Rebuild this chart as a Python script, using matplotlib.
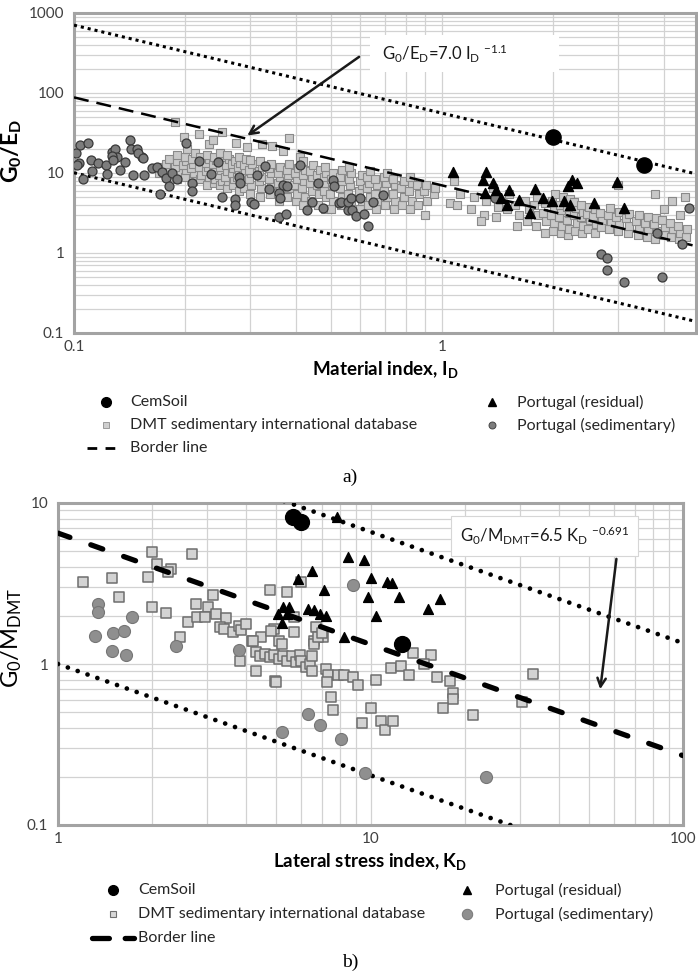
import matplotlib
matplotlib.use('Agg')
import matplotlib.pyplot as plt
from matplotlib.lines import Line2D
from matplotlib.patches import Rectangle
from matplotlib.ticker import FixedLocator, FuncFormatter, LogLocator, NullFormatter
import numpy as np

# ---------------- DATA : chart a) G0/ED vs ID ----------------
cem_a_id = [2.0, 3.55]
cem_a_g = [28.0, 12.6]

res_a_id = [1.07, 1.32, 1.29, 1.38, 1.31, 1.40, 1.45, 1.50, 1.52, 1.62, 1.79, 1.73, 1.88,
            1.99, 2.15, 2.23, 2.26, 2.33, 2.20, 2.59, 2.98, 3.13]
res_a_g = [10.3, 10.3, 8.2, 7.5, 5.6, 6.2, 4.9, 4.0, 6.2, 4.6, 6.4, 3.2, 4.9,
           4.5, 4.5, 4.0, 8.2, 7.5, 6.8, 4.2, 7.7, 3.7]

sed_a_id = [0.104, 0.109, 0.101, 0.103, 0.111, 0.116, 0.122, 0.127, 0.129, 0.131, 0.138, 0.142,
            0.143, 0.148, 0.153, 0.202, 0.218, 0.246, 0.330, 0.410, 0.102, 0.106, 0.112, 0.123,
            0.127, 0.128, 0.133, 0.145, 0.149, 0.154, 0.155, 0.163, 0.168, 0.173, 0.178, 0.181,
            0.171, 0.185, 0.191, 0.209, 0.209, 0.235, 0.252, 0.274, 0.274, 0.280, 0.282, 0.302,
            0.308, 0.314, 0.338, 0.360, 0.362, 0.369, 0.379, 0.360, 0.376, 0.430, 0.442, 0.460,
            0.475, 0.505, 0.508, 0.525, 0.533, 0.555, 0.555, 0.566, 0.600, 0.570, 0.585, 0.615,
            0.650, 0.690, 0.630, 1.39, 2.70, 2.80, 2.80, 3.12, 3.85, 4.50, 3.97, 4.70]
sed_a_g = [22.4, 23.7, 17.8, 13.3, 14.5, 13.3, 12.6, 18.3, 20.0, 15.8, 13.7, 25.9,
           20.0, 20.0, 15.8, 23.7, 14.1, 13.7, 12.2, 12.6, 12.6, 8.4, 10.6, 9.7,
           16.3, 14.5, 10.9, 9.4, 17.8, 15.4, 9.4, 11.5, 11.9, 10.3, 8.7, 6.9,
           5.5, 10.0, 8.4, 7.5, 6.0, 9.7, 5.0, 4.75, 4.0, 8.9, 7.5, 4.4,
           4.1, 9.4, 6.4, 5.6, 4.9, 7.1, 6.8, 2.8, 3.1, 3.45, 4.4, 7.5,
           3.6, 8.2, 6.8, 4.2, 4.4, 3.45, 4.4, 4.9, 4.9, 3.45, 2.9, 3.1,
           4.4, 5.3, 2.15, 4.9, 0.98, 0.87, 0.62, 0.44, 1.78, 1.3, 0.5, 3.7]

dmt_a_id = [0.17, 0.172,
            0.18, 0.182, 0.178, 0.181,
            0.19, 0.192, 0.188, 0.191, 0.19, 0.188,
            0.2, 0.202, 0.198, 0.201, 0.2, 0.203, 0.199,
            0.21, 0.212, 0.208, 0.211, 0.209, 0.213,
            0.22, 0.222, 0.218, 0.221, 0.22, 0.219,
            0.23, 0.232, 0.228, 0.231, 0.229, 0.233, 0.23, 0.232,
            0.24, 0.242, 0.238, 0.241, 0.239, 0.243, 0.24, 0.238,
            0.25, 0.252, 0.248, 0.251, 0.249, 0.253, 0.25, 0.252,
            0.26, 0.262, 0.258, 0.261, 0.259, 0.263, 0.26,
            0.27, 0.272, 0.268, 0.271, 0.269, 0.273, 0.275,
            0.28, 0.282, 0.278, 0.281, 0.279, 0.283, 0.28,
            0.29, 0.292, 0.288, 0.291, 0.289, 0.293, 0.295,
            0.3, 0.303, 0.298, 0.302, 0.299, 0.304, 0.3,
            0.32, 0.323, 0.318, 0.322, 0.319, 0.324, 0.32, 0.325,
            0.34, 0.343, 0.338, 0.342, 0.339, 0.344, 0.345,
            0.36, 0.363, 0.358, 0.362, 0.359, 0.364, 0.37,
            0.38, 0.383, 0.378, 0.382, 0.379, 0.384, 0.385,
            0.4, 0.404, 0.397, 0.403, 0.398, 0.405, 0.41,
            0.42, 0.424, 0.417, 0.423, 0.418, 0.425, 0.42,
            0.44, 0.444, 0.437, 0.443, 0.438, 0.445,
            0.46, 0.464, 0.457, 0.463, 0.458, 0.465,
            0.48, 0.484, 0.477, 0.483, 0.478, 0.485, 0.48,
            0.5, 0.505, 0.497, 0.504, 0.498, 0.506,
            0.53, 0.535, 0.527, 0.534, 0.528, 0.536,
            0.56, 0.565, 0.557, 0.564, 0.558, 0.566, 0.56,
            0.6, 0.606, 0.596, 0.605, 0.597, 0.607,
            0.63, 0.636, 0.626, 0.635, 0.627, 0.637,
            0.66, 0.666, 0.656, 0.665, 0.657,
            0.7, 0.707, 0.695, 0.706, 0.696, 0.708,
            0.74, 0.747, 0.735, 0.746, 0.736,
            0.78, 0.787, 0.775, 0.786,
            0.82, 0.828, 0.815, 0.827, 0.816,
            0.86, 0.868, 0.855,
            0.9, 0.908, 0.895, 0.907,
            0.95, 0.96,
            1.05,
            1.1, 1.12, 1.08,
            1.2, 1.22,
            1.3, 1.32, 1.28,
            1.4, 1.42, 1.38,
            1.5, 1.52,
            1.6, 1.62, 1.58,
            1.7, 1.72, 1.68,
            1.8, 1.82, 1.78, 1.81,
            1.9, 1.92, 1.88, 1.91,
            2.0, 2.02, 1.98, 2.01, 1.99, 2.03,
            2.1, 2.12, 2.08, 2.11, 2.09, 2.13,
            2.2, 2.22, 2.18, 2.21, 2.19, 2.23,
            2.3, 2.32, 2.28, 2.31, 2.29,
            2.4, 2.42, 2.38, 2.41, 2.39,
            2.5, 2.52, 2.48, 2.51,
            2.6, 2.62, 2.58, 2.61,
            2.7, 2.72, 2.68,
            2.85, 2.87, 2.83, 2.86,
            3.0, 3.03, 2.97, 3.02, 3.0,
            3.2, 3.23, 3.17, 3.22,
            3.4, 3.43, 3.37, 3.42,
            3.6, 3.63, 3.57, 3.62,
            3.8, 3.83, 3.77, 3.82, 3.8,
            4.0, 4.03, 3.97, 4.02,
            4.2, 4.23, 4.17, 4.22,
            4.4, 4.43, 4.37, 4.42,
            4.6, 4.63, 4.57]
dmt_a_g = [10, 12,
           9, 11, 13, 15,
           8.5, 10, 12, 14, 17, 43,
           9, 11, 12.5, 14, 16, 20, 28,
           8, 10, 11.5, 13, 15, 18,
           8.5, 9.5, 12, 14, 16, 31,
           7, 9, 10.5, 12, 13.5, 15, 17, 23,
           7.5, 8.5, 10, 11, 13, 14.5, 16, 26,
           7, 8, 9.5, 11, 12, 14, 18, 33,
           6.5, 8, 9, 10.5, 12.5, 15, 17,
           7, 8.5, 10, 11.5, 13, 14, 24,
           6, 7.5, 9, 10, 12, 13.5, 16,
           6.5, 8, 9.5, 11, 12.5, 15, 21,
           5.5, 7, 8.5, 10, 11, 13, 14.5,
           5, 6.5, 8, 9, 10.5, 12, 14, 23,
           5.5, 7, 8.5, 10, 11.5, 13, 22,
           4.5, 6, 7.5, 9, 10, 12, 19,
           5, 6.5, 8, 9.5, 11, 13, 27,
           4.5, 5.5, 7, 8.5, 10, 11.5, 16,
           4, 5, 6.5, 8, 9.5, 11, 14,
           4.5, 6, 7.5, 9, 10.5, 12.5,
           4, 5.5, 7, 8, 9.5, 11,
           3.5, 5, 6, 7.5, 9, 10, 12,
           3.5, 4.5, 5.5, 7, 8.5, 10,
           4, 5, 6.5, 8, 9, 11,
           3.5, 4.5, 5.5, 7, 8.5, 10, 12,
           3.5, 4.5, 6, 7, 8, 9.5,
           4, 5, 6.5, 7.5, 9, 10.5,
           3.5, 4.5, 5.5, 7, 8.5,
           4, 5, 6, 7.5, 9, 10,
           3.5, 4.5, 5.5, 7, 8.5,
           4, 5, 6.5, 8,
           3.5, 4.5, 6, 7.5, 9,
           4, 5.5, 7,
           3, 4.5, 6, 7,
           5.5, 6.5,
           4.2,
           4, 5.5, 8,
           3.5, 5,
           3, 4.5, 2.5,
           2.8, 3.8, 6.5,
           3.5, 5.5,
           2.2, 3, 4,
           2.5, 3.5, 4.5,
           2.2, 3, 4, 5,
           1.8, 2.5, 3.2, 4.2,
           1.9, 2.4, 3, 3.6, 4.5, 5.5,
           1.8, 2.2, 2.8, 3.4, 4, 5,
           1.7, 2, 2.6, 3.2, 3.8, 4.8,
           1.9, 2.4, 3, 3.6, 4.4,
           1.8, 2.2, 2.8, 3.3, 4,
           2, 2.6, 3.1, 3.8,
           1.8, 2.3, 2.9, 3.5,
           2.1, 2.6, 3.2,
           2, 2.5, 3, 3.6,
           1.9, 2.4, 2.8, 3.3, 7,
           1.8, 2.2, 2.7, 3.1,
           1.7, 2.1, 2.5, 3,
           1.6, 2, 2.4, 2.8,
           1.5, 1.9, 2.3, 2.7, 5.5,
           1.7, 2.1, 2.6, 3.5,
           1.6, 2, 2.4, 4.5,
           1.5, 1.8, 2.2, 3,
           1.6, 2, 5]

# power-law lines of chart a): coefficient, exponent
border_a = (7.0, -1.1)
upper_a = (56.0, -1.1)
lower_a = (0.8, -1.1)
xlim_a = (0.1, 4.9)
ylim_a = (0.1, 1000)
xticks_a = [0.1, 1]
yticks_a = [0.1, 1, 10, 100, 1000]

# ---------------- DATA : chart b) G0/MDMT vs KD ----------------
cem_b_kd = [5.65, 6.0, 12.6]
cem_b_g = [8.2, 7.6, 1.33]

res_b_kd = [7.8, 5.85, 6.5, 7.1, 8.5, 9.5, 10.0, 11.3, 11.7, 9.8, 12.3, 16.7, 10.4, 15.3,
            5.05, 5.25, 5.5, 5.4, 5.2, 6.3, 6.6, 6.9, 7.2, 8.2]
res_b_g = [8.2, 3.35, 3.8, 2.9, 4.6, 4.4, 3.4, 3.25, 3.2, 2.6, 2.6, 2.55, 1.98, 2.2,
           2.05, 2.25, 2.25, 2.05, 1.8, 2.2, 2.15, 2.05, 2.0, 1.47]

sed_b_kd = [1.34, 1.34, 1.72, 1.31, 1.5, 1.63, 1.49, 1.65, 2.38, 3.8, 6.3, 6.9, 5.2, 8.05,
            8.8, 23.5, 9.6]
sed_b_g = [2.35, 2.1, 1.95, 1.5, 1.55, 1.6, 1.2, 1.13, 1.3, 1.22, 0.49, 0.42, 0.38, 0.34,
           3.1, 0.2, 0.21]

dmt_b_kd = [1.2, 1.49, 1.94, 2.0, 2.07, 2.3, 2.25, 2.68, 1.57, 2.0, 2.22, 2.76, 3.02, 3.14,
            2.6, 2.78, 2.95, 3.2, 3.45, 3.3, 3.4, 3.63, 3.8, 3.85, 4.0, 4.17, 4.46, 4.77,
            5.4, 6.0, 5.7, 4.9, 5.1, 5.7, 6.7, 7.05, 6.6, 2.45, 3.82, 4.2, 4.8, 5.2,
            4.3, 4.43, 4.6, 4.77, 4.9, 5.1, 5.25, 5.4, 5.6, 5.77, 5.95, 6.0, 6.2, 6.4,
            6.5, 6.5, 6.6, 6.8, 7.0, 4.3, 4.95, 5.0, 7.2, 7.3, 7.25, 7.5, 7.6, 7.85, 8.2,
            13.7, 15.6, 11.6, 12.5, 13.3, 14.8, 16.3, 17.9, 18.3, 18.3, 17.1, 21.3, 30.5, 33.0,
            8.8, 9.1, 10.4, 10.0, 9.4, 10.8, 11.1, 11.8]
dmt_b_g = [3.25, 3.4, 3.45, 4.98, 4.15, 3.9, 3.75, 4.85, 2.62, 2.25, 2.07, 2.35, 2.26, 2.7,
           1.82, 1.95, 1.95, 2.05, 1.92, 1.7, 1.65, 1.57, 1.72, 1.62, 1.76, 1.38, 1.47, 2.9,
           2.8, 3.25, 1.95, 1.65, 1.38, 1.58, 1.7, 1.47, 1.38, 1.47, 1.05, 1.38, 1.6, 1.33,
           1.18, 1.12, 1.15, 1.1, 1.13, 1.08, 1.12, 1.05, 1.12, 1.03, 1.13, 1.05, 0.96, 1.0,
           0.91, 1.12, 1.33, 1.47, 1.55, 0.91, 0.78, 0.77, 0.93, 0.85, 0.77, 0.62, 0.52, 0.86, 0.86,
           1.17, 1.13, 0.95, 0.97, 0.85, 1.0, 0.83, 0.78, 0.66, 0.61, 0.53, 0.48, 0.58, 0.87,
           0.83, 0.74, 0.8, 0.53, 0.43, 0.44, 0.39, 0.44]

border_b = (6.5, -0.691)
upper_b = (32.5, -0.691)
lower_b = (1.0, -0.691)
xlim_b = (1, 100)
ylim_b = (0.1, 10)
xticks_b = [1, 10, 100]
yticks_b = [0.1, 1, 10]

legend_labels = ['CemSoil', 'DMT sedimentary international database', 'Border line',
                 'Portugal (residual)', 'Portugal (sedimentary)']

# ---------------- STYLE ----------------
plt.rcParams['font.family'] = ['Lato', 'DejaVu Sans']
plt.rcParams['mathtext.default'] = 'regular'

W, H = 698, 976
fig = plt.figure(figsize=(W / 100, H / 100), dpi=100)


def fmt(v, pos=None):
    return ('%g' % v)


def style_axes(ax, xticks, yticks, xlim, ylim):
    ax.set_xscale('log')
    ax.set_yscale('log')
    ax.set_xlim(*xlim)
    ax.set_ylim(*ylim)
    ax.xaxis.set_major_locator(FixedLocator(xticks))
    ax.yaxis.set_major_locator(FixedLocator(yticks))
    ax.xaxis.set_major_formatter(FuncFormatter(fmt))
    ax.yaxis.set_major_formatter(FuncFormatter(fmt))
    ax.xaxis.set_minor_locator(LogLocator(base=10, subs=range(2, 10), numticks=20))
    ax.yaxis.set_minor_locator(LogLocator(base=10, subs=range(2, 10), numticks=20))
    ax.xaxis.set_minor_formatter(NullFormatter())
    ax.yaxis.set_minor_formatter(NullFormatter())
    ax.grid(True, which='both', color='#d2d2d2', lw=0.9)
    ax.set_axisbelow(True)
    for s in ax.spines.values():
        s.set_color('#a3a3a3')
        s.set_linewidth(2.2)
    ax.tick_params(which='both', length=0, labelsize=11, labelcolor='#404040')
    ax.tick_params(axis='y', pad=7)
    ax.tick_params(axis='x', pad=5)


def power(coef, xs):
    c, e = coef
    xs = np.asarray(xs, dtype=float)
    return c * xs ** e


# ---------------- CHART a ----------------
axa = fig.add_axes([74 / W, 1 - 333 / H, 622 / W, 320 / H])
style_axes(axa, xticks_a, yticks_a, xlim_a, ylim_a)

axa.scatter(dmt_a_id, dmt_a_g, marker='s', s=26, facecolor='#c8c8c8', edgecolor='#8a8a8a',
            linewidth=0.8, zorder=3)
xx = np.array(xlim_a)
axa.plot(xx, power(border_a, xx), color='black', lw=1.8, linestyle=(0, (6.0, 3.2)), zorder=4)
axa.plot(xx, power(upper_a, xx), color='black', lw=2.2, linestyle=(0, (1, 1.3)), zorder=4)
axa.plot(xx, power(lower_a, xx), color='black', lw=2.2, linestyle=(0, (1, 1.3)), zorder=4)
axa.scatter(sed_a_id, sed_a_g, marker='o', s=42, facecolor='#7d7d7d', edgecolor='#383838',
            linewidth=0.9, zorder=5)
axa.scatter(res_a_id, res_a_g, marker='^', s=52, facecolor='black', edgecolor='black', zorder=6)
axa.scatter(cem_a_id, cem_a_g, marker='o', s=120, facecolor='black', edgecolor='black', zorder=7)

axa.set_xlabel(r'Material index, I$_D$', fontsize=13.5, fontweight='bold', labelpad=4)
axa.set_ylabel(r'G$_0$/E$_D$', fontsize=16.5, fontweight='bold')
axa.yaxis.set_label_coords(-0.08, 0.57)

axa.add_patch(Rectangle((0.476, 0.816), 0.303, 0.116, transform=axa.transAxes,
                        facecolor='white', edgecolor='none', zorder=8))
axa.text(0.495, 0.872, r'G$_0$/E$_D$=7.0 I$_D$ $^{-1.1}$', transform=axa.transAxes,
         fontsize=12, color='#1a1a1a', va='center', ha='left', zorder=9)
axa.annotate('', xy=(0.275, 0.612), xytext=(0.462, 0.868), xycoords='axes fraction',
             arrowprops=dict(arrowstyle='->,head_length=0.6,head_width=0.3', color='#1a1a1a',
                             lw=1.8), zorder=9)

# ---------------- CHART b ----------------
axb = fig.add_axes([58 / W, 1 - 825 / H, 625 / W, 322 / H])
style_axes(axb, xticks_b, yticks_b, xlim_b, ylim_b)

xb = np.array(xlim_b)
axb.scatter(dmt_b_kd, dmt_b_g, marker='s', s=46, facecolor='#d3d3d3', edgecolor='#6e6e6e',
            linewidth=1.1, zorder=3)
axb.plot(xb, power(border_b, xb), color='black', lw=3.8, linestyle=(0, (2.4, 4.2)),
         dash_capstyle='round', zorder=4)
axb.plot(xb, power(upper_b, xb), color='black', lw=3.4, linestyle=(0, (0.01, 2.2)),
         dash_capstyle='round', zorder=4)
axb.plot(xb, power(lower_b, xb), color='black', lw=3.4, linestyle=(0, (0.01, 2.2)),
         dash_capstyle='round', zorder=4)
axb.scatter(sed_b_kd, sed_b_g, marker='o', s=75, facecolor='#8f8f8f', edgecolor='#757575',
            linewidth=0.8, zorder=5)
axb.scatter(res_b_kd, res_b_g, marker='^', s=50, facecolor='black', edgecolor='black', zorder=6)
axb.scatter(cem_b_kd, cem_b_g, marker='o', s=130, facecolor='black', edgecolor='black', zorder=7)

axb.set_xlabel(r'Lateral stress index, K$_D$', fontsize=13.5, fontweight='bold', labelpad=4)
axb.set_ylabel(r'G$_0$/M$_{DMT}$', fontsize=17)
axb.yaxis.set_label_coords(-0.054, 0.58)

axb.text(0.643, 0.898, r'G$_0$/M$_{DMT}$=6.5 K$_D$ $^{-0.691}$', transform=axb.transAxes,
         fontsize=12, color='#1a1a1a', va='center', ha='left', zorder=9,
         bbox=dict(boxstyle='square,pad=0.55', facecolor='white', edgecolor='#d6d6d6', lw=0.8))
axb.annotate('', xy=(0.867, 0.413), xytext=(0.894, 0.835), xycoords='axes fraction',
             arrowprops=dict(arrowstyle='->,head_length=0.6,head_width=0.3', color='#1a1a1a',
                             lw=1.8), zorder=9)

# ---------------- LEGENDS ----------------
def fx(px):
    return px / W


def fy(py):
    return 1 - py / H


def legend_block(rows, colL, colR, marks, fs=11.5):
    (mL, tL), (mR, tR) = colL, colR
    cem, dmt, bl, res, sed = marks
    r1, r2, r3 = rows
    fig.add_artist(Line2D([fx(mL)], [fy(r1)], transform=fig.transFigure, ls='none', **cem))
    fig.add_artist(Line2D([fx(mL)], [fy(r2)], transform=fig.transFigure, ls='none', **dmt))
    fig.add_artist(Line2D([fx(bl[0]), fx(bl[1])], [fy(r3), fy(r3)], transform=fig.transFigure,
                          **bl[2]))
    fig.add_artist(Line2D([fx(mR)], [fy(r1)], transform=fig.transFigure, ls='none', **res))
    fig.add_artist(Line2D([fx(mR)], [fy(r2)], transform=fig.transFigure, ls='none', **sed))
    for (x, y, lab) in [(tL, r1, legend_labels[0]), (tL, r2, legend_labels[1]),
                        (tL, r3, legend_labels[2]), (tR, r1, legend_labels[3]),
                        (tR, r2, legend_labels[4])]:
        fig.text(fx(x), fy(y), lab, fontsize=fs, color='#262626', va='center', ha='left')


legend_block((402, 425, 448), (106, 130), (492, 517),
             (dict(marker='o', ms=7, mfc='black', mec='black'),
              dict(marker='s', ms=4.5, mfc='#cfcfcf', mec='#9a9a9a', mew=0.7),
              (87, 116, dict(color='black', lw=2.0, linestyle=(0, (3.5, 3.0)))),
              dict(marker='^', ms=6, mfc='black', mec='black'),
              dict(marker='o', ms=5, mfc='#7d7d7d', mec='#444444', mew=0.7)))

legend_block((890, 914, 938), (113, 138), (467, 495),
             (dict(marker='o', ms=7, mfc='black', mec='black'),
              dict(marker='s', ms=4.5, mfc='#d8d8d8', mec='#707070', mew=0.8),
              (92, 134, dict(color='black', lw=3.8, linestyle=(0, (3.2, 3.0)),
                             dash_capstyle='round')),
              dict(marker='^', ms=6, mfc='black', mec='black'),
              dict(marker='o', ms=7.5, mfc='#8f8f8f', mec='#777777', mew=0.7)))

fig.text(fx(350), fy(477), 'a)', fontsize=14, family='Liberation Serif', ha='center',
         va='center', color='black')
fig.text(fx(350), fy(962), 'b)', fontsize=14, family='Liberation Serif', ha='center',
         va='center', color='black')

fig.savefig('out.png', dpi=100)
